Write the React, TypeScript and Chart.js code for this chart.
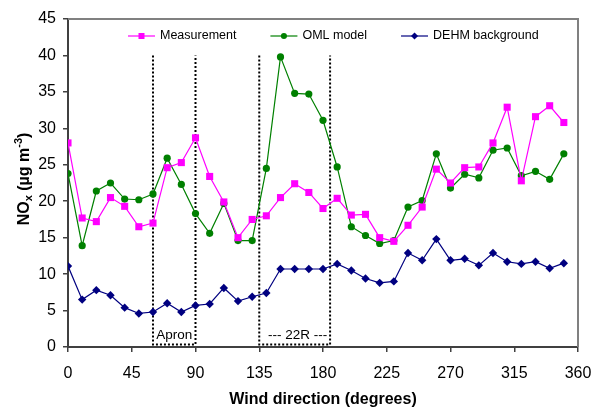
import React, { useEffect, useRef } from "react";
import { Chart, registerables } from "chart.js";

Chart.register(...registerables);

const directions = [0, 10, 20, 30, 40, 50, 60, 70, 80, 90, 100, 110, 120, 130, 140, 150, 160, 170, 180, 190, 200, 210, 220, 230, 240, 250, 260, 270, 280, 290, 300, 310, 320, 330, 340, 350];
const measurement = [28.0, 17.7, 17.2, 20.5, 19.3, 16.5, 17.0, 24.6, 25.3, 28.7, 23.4, 19.9, 15.0, 17.5, 18.0, 20.5, 22.4, 21.2, 19.0, 20.4, 18.1, 18.2, 15.0, 14.5, 16.7, 19.2, 24.4, 22.5, 24.6, 24.7, 28.0, 32.9, 22.8, 31.6, 33.1, 30.8];
const omlModel = [23.8, 13.9, 21.4, 22.5, 20.3, 20.2, 21.0, 25.9, 22.3, 18.3, 15.6, 19.7, 14.6, 14.6, 24.5, 39.8, 34.8, 34.7, 31.1, 24.7, 16.5, 15.3, 14.2, 14.6, 19.2, 20.1, 26.5, 21.8, 23.7, 23.2, 27.0, 27.3, 23.5, 24.1, 23.0, 26.5];
const dehmBackground = [11.1, 6.5, 7.8, 7.1, 5.4, 4.6, 4.8, 6.0, 4.8, 5.7, 5.9, 8.1, 6.3, 6.9, 7.4, 10.7, 10.7, 10.7, 10.7, 11.4, 10.5, 9.4, 8.8, 9.0, 12.9, 11.9, 14.8, 11.9, 12.1, 11.2, 12.9, 11.7, 11.4, 11.7, 10.8, 11.5];

const xTicks = [0, 45, 90, 135, 180, 225, 270, 315, 360];
const yTicks = [0, 5, 10, 15, 20, 25, 30, 35, 40, 45];

const zoneStarts = [60, 135];
const zoneEnds = [90, 185];
const zoneTop = 40;
const zoneLabels = ["Apron", "--- 22R ---"];

const seriesNames = ["Measurement", "OML model", "DEHM background"];
const seriesColors = ["#FF00FF", "#008000", "#000080"];
const seriesPointStyles = ["rect", "circle", "rectRot"];
const seriesPointRadius = [5, 3.6, 4.2];

const FONT = "Arial, 'Liberation Sans', Helvetica, sans-serif";

function drawMarker(ctx: CanvasRenderingContext2D, style: string, x: number, y: number, r: number) {
  ctx.beginPath();
  if (style === "rect") {
    const s = Math.SQRT1_2 * r;
    ctx.rect(x - s, y - s, 2 * s, 2 * s);
  } else if (style === "circle") {
    ctx.arc(x, y, r, 0, Math.PI * 2);
  } else {
    ctx.moveTo(x - r, y);
    ctx.lineTo(x, y - r);
    ctx.lineTo(x + r, y);
    ctx.lineTo(x, y + r);
    ctx.closePath();
  }
  ctx.fill();
}

const decorPlugin = {
  id: "decor",
  beforeDatasetsDraw(chart: any) {
    const { ctx, chartArea, scales } = chart;
    const xs = scales.x;
    const ys = scales.y;
    ctx.save();
    // gray frame top & right
    ctx.strokeStyle = "#808080";
    ctx.lineWidth = 2;
    ctx.beginPath();
    ctx.moveTo(chartArea.left, chartArea.top);
    ctx.lineTo(chartArea.right, chartArea.top);
    ctx.lineTo(chartArea.right, chartArea.bottom);
    ctx.stroke();

    // dotted zones
    ctx.strokeStyle = "#000000";
    ctx.lineWidth = 2;
    ctx.setLineDash([2, 2]);
    const yTop = ys.getPixelForValue(zoneTop);
    const yBot = ys.getPixelForValue(0) - 2.5;
    for (let i = 0; i < zoneStarts.length; i++) {
      const x1 = xs.getPixelForValue(zoneStarts[i]);
      const x2 = xs.getPixelForValue(zoneEnds[i]);
      ctx.beginPath();
      ctx.moveTo(x1, yTop);
      ctx.lineTo(x1, yBot);
      ctx.lineTo(x2, yBot);
      ctx.lineTo(x2, yTop);
      ctx.stroke();
    }
    ctx.setLineDash([]);
    ctx.fillStyle = "#000000";
    ctx.font = `13.5px ${FONT}`;
    ctx.textAlign = "center";
    ctx.textBaseline = "middle";
    for (let i = 0; i < zoneStarts.length; i++) {
      const x1 = xs.getPixelForValue(zoneStarts[i]);
      const x2 = xs.getPixelForValue(zoneEnds[i]);
      ctx.fillText(zoneLabels[i], (x1 + x2) / 2 + (i === 1 ? 3 : 0), yBot - 9);
    }
    ctx.restore();
  },
  afterDraw(chart: any) {
    const { ctx, chartArea } = chart;
    ctx.save();
    // legend
    ctx.font = `12.5px ${FONT}`;
    ctx.textBaseline = "middle";
    ctx.textAlign = "left";
    let x = chartArea.left + 60;
    const y = chartArea.top + 17;
    for (let i = 0; i < seriesNames.length; i++) {
      ctx.strokeStyle = seriesColors[i];
      ctx.fillStyle = seriesColors[i];
      ctx.lineWidth = 1.2;
      ctx.beginPath();
      ctx.moveTo(x, y);
      ctx.lineTo(x + 27, y);
      ctx.stroke();
      drawMarker(ctx, seriesPointStyles[i], x + 13.5, y, seriesPointRadius[i] * 0.85);
      ctx.fillStyle = "#000000";
      ctx.fillText(seriesNames[i], x + 32, y);
      x += 32 + ctx.measureText(seriesNames[i]).width + 34;
    }

    // x title
    ctx.font = `bold 16px ${FONT}`;
    ctx.textAlign = "center";
    ctx.textBaseline = "middle";
    ctx.fillText("Wind direction (degrees)", (chartArea.left + chartArea.right) / 2, 400);

    // y title with sub/superscript
    const parts = [
      { t: "NO", size: 16, dy: 0 },
      { t: "x", size: 11, dy: 3 },
      { t: " (µg m", size: 16, dy: 0 },
      { t: "-3", size: 11, dy: -7 },
      { t: ")", size: 16, dy: 0 },
    ];
    let total = 0;
    for (const p of parts) {
      ctx.font = `bold ${p.size}px ${FONT}`;
      total += ctx.measureText(p.t).width;
    }
    ctx.translate(23, (chartArea.top + chartArea.bottom) / 2 - 4);
    ctx.rotate(-Math.PI / 2);
    ctx.textAlign = "left";
    ctx.textBaseline = "alphabetic";
    let px = -total / 2;
    for (const p of parts) {
      ctx.font = `bold ${p.size}px ${FONT}`;
      ctx.fillText(p.t, px, 6 + p.dy);
      px += ctx.measureText(p.t).width;
    }
    ctx.restore();
  },
};

export default function App() {
  const canvasRef = useRef<HTMLCanvasElement | null>(null);

  useEffect(() => {
    if (!canvasRef.current) return;
    const series = [measurement, omlModel, dehmBackground];
    const chart = new Chart(canvasRef.current, {
      type: "line",
      data: {
        datasets: series.map((vals, i) => ({
          label: seriesNames[i],
          data: directions.map((d, j) => ({ x: d, y: vals[j] })),
          borderColor: seriesColors[i],
          backgroundColor: seriesColors[i],
          pointBackgroundColor: seriesColors[i],
          pointBorderColor: seriesColors[i],
          pointStyle: seriesPointStyles[i] as any,
          pointRadius: seriesPointRadius[i],
          pointBorderWidth: 0,
          borderWidth: 1.2,
          tension: 0,
          fill: false,
        })),
      },
      options: {
        animation: false,
        responsive: false,
        layout: { padding: { left: 0, right: 15, top: 19, bottom: 0 } },
        plugins: {
          legend: { display: false },
          tooltip: { enabled: false },
        },
        scales: {
          x: {
            type: "linear",
            min: 0,
            max: 360,
            afterBuildTicks: (scale: any) => {
              scale.ticks = xTicks.map((v) => ({ value: v }));
            },
            afterFit: (scale: any) => {
              scale.height = 62;
              scale.paddingLeft = 0;
              scale.paddingRight = 0;
            },
            grid: {
              display: true,
              drawOnChartArea: false,
              drawTicks: true,
              tickLength: 5,
              color: "#404040",
              lineWidth: 1.5,
            },
            border: { display: true, color: "#404040", width: 2 },
            ticks: {
              autoSkip: false,
              maxRotation: 0,
              padding: 12,
              color: "#000000",
              font: { family: FONT, size: 16 },
            },
          },
          y: {
            type: "linear",
            min: 0,
            max: 45,
            afterBuildTicks: (scale: any) => {
              scale.ticks = yTicks.map((v) => ({ value: v }));
            },
            afterFit: (scale: any) => {
              scale.width = 68;
              scale.paddingTop = 0;
              scale.paddingBottom = 0;
            },
            grid: {
              display: true,
              drawOnChartArea: false,
              drawTicks: true,
              tickLength: 5,
              color: "#404040",
              lineWidth: 1.5,
            },
            border: { display: true, color: "#404040", width: 2 },
            ticks: {
              autoSkip: false,
              padding: 7,
              color: "#000000",
              font: { family: FONT, size: 16 },
            },
          },
        },
      },
      plugins: [decorPlugin],
    });
    return () => chart.destroy();
  }, []);

  return (
    <div style={{ position: "absolute", left: 0, top: 0, width: 593, height: 409, background: "#ffffff" }}>
      <canvas ref={canvasRef} width={593} height={409} style={{ display: "block" }} />
    </div>
  );
}
